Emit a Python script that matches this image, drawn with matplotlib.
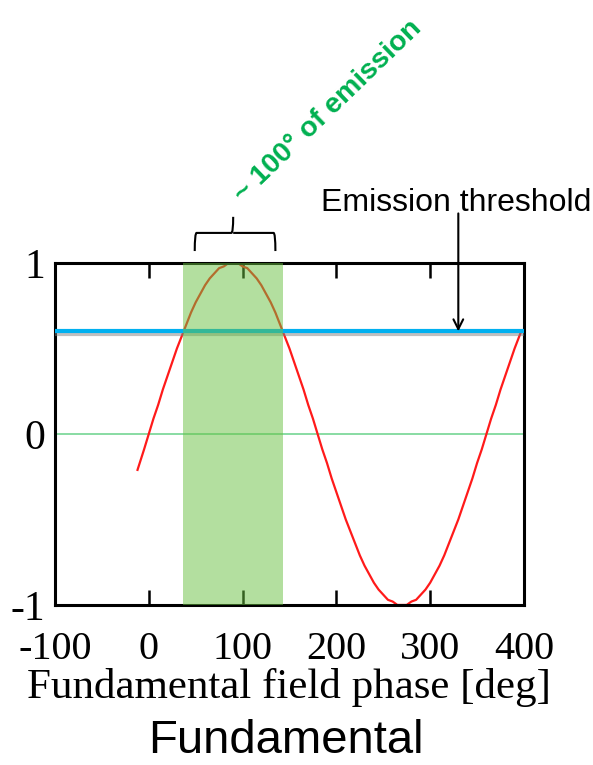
import matplotlib.pyplot as plt
import matplotlib.patheffects as pe
from matplotlib.path import Path
from matplotlib.patches import PathPatch

# field phase [deg] and normalised fundamental field
phase = [-12, -5, 0, 5, 10, 15, 20, 25, 30, 35, 40, 45, 50, 55, 60, 65, 70,
         75, 80, 85, 90, 95, 100, 105, 110, 115, 120, 125, 130, 135, 140, 145,
         150, 155, 160, 165, 170, 175, 180, 185, 190, 195, 200, 205, 210, 215,
         220, 225, 230, 235, 240, 245, 250, 255, 260, 265, 270, 275, 280, 285,
         290, 295, 300, 305, 310, 315, 320, 325, 330, 335, 340, 345, 350, 355,
         360, 365, 370, 375, 380, 385, 390, 397]
field = [-0.21, -0.09, 0.00, 0.09, 0.17, 0.26, 0.34, 0.42, 0.50, 0.57, 0.64,
         0.71, 0.77, 0.82, 0.87, 0.91, 0.94, 0.97, 0.98, 1.00, 1.00, 1.00,
         0.98, 0.97, 0.94, 0.91, 0.87, 0.82, 0.77, 0.71, 0.64, 0.57, 0.50,
         0.42, 0.34, 0.26, 0.17, 0.09, 0.00, -0.09, -0.17, -0.26, -0.34,
         -0.42, -0.50, -0.57, -0.64, -0.71, -0.77, -0.82, -0.87, -0.91, -0.94,
         -0.97, -0.98, -1.00, -1.00, -1.00, -0.98, -0.97, -0.94, -0.91, -0.87,
         -0.82, -0.77, -0.71, -0.64, -0.57, -0.50, -0.42, -0.34, -0.26, -0.17,
         -0.09, 0.00, 0.09, 0.17, 0.26, 0.34, 0.42, 0.50, 0.60]
threshold = 0.6
emission_window = [37, 143]
xticks = [-100, 0, 100, 200, 300, 400]
yticks = [-1, 0, 1]

fig = plt.figure(figsize=(5.93, 7.65), dpi=100)
ax = fig.add_axes([0.0927, 0.2092, 0.7909, 0.447])

serif = 'Liberation Serif'
sans = 'Liberation Sans'

#zero line and the field
ax.axhline(0, color='#7fd99c', lw=1.3, zorder=1)
ax.plot(phase, field, color='#ff1a1a', lw=1.6, zorder=2)

#threshold line with a soft shadow
ax.axhline(threshold, color='#00b0f0', lw=3, zorder=3,
           path_effects=[pe.SimpleLineShadow(offset=(0, -2), shadow_color='gray', alpha=0.5),
                         pe.Normal()])

#emission window drawn over everything
ax.axvspan(emission_window[0], emission_window[1], color='#69c141', alpha=0.5,
           lw=0, zorder=5)

ax.set_xlim(-100, 400)
ax.set_ylim(-1, 1)
ax.set_xticks(xticks)
ax.set_xticklabels([str(t) for t in xticks], fontfamily=serif, fontsize=29)
ax.set_yticks(yticks)
ax.set_yticklabels([str(t) for t in yticks], fontfamily=serif, fontsize=30)
ax.tick_params(axis='x', direction='in', top=True, bottom=True, length=11,
               width=1.8, pad=19)
ax.tick_params(axis='y', length=0, pad=7)
for s in ax.spines.values():
    s.set_linewidth(2.2)
ax.set_xlabel('Fundamental field phase [deg]', fontfamily=serif, fontsize=31,
              labelpad=0)

#brace over the emission window
mid = sum(emission_window) / 2
bl, br = 49, 135
trans = ax.get_xaxis_transform()
verts = [(bl, 1.035), (bl, 1.088), (bl + 2, 1.088),
         (mid - 2, 1.088), (mid, 1.088), (mid, 1.135),
         (mid, 1.088), (mid + 2, 1.088),
         (br - 2, 1.088), (br, 1.088), (br, 1.035)]
codes = [Path.MOVETO, Path.CURVE3, Path.CURVE3,
         Path.LINETO, Path.CURVE3, Path.CURVE3,
         Path.MOVETO, Path.LINETO,
         Path.LINETO, Path.CURVE3, Path.CURVE3]
ax.add_patch(PathPatch(Path(verts, codes), transform=trans, fill=False,
                       color='black', lw=1.5, clip_on=False))

ax.text(100, 1.175, '~ 100\u00b0 of emission', transform=trans, rotation=44,
        rotation_mode='anchor', ha='left', va='baseline', color='#00b050',
        fontfamily=sans, fontweight='bold', fontsize=20.5)

#threshold label with arrow
ax.annotate('', xy=(330, threshold), xycoords='data',
            xytext=(330, 1.145), textcoords=trans,
            arrowprops=dict(arrowstyle='->,head_length=0.7,head_width=0.35',
                            color='black', lw=1.5, shrinkA=0, shrinkB=0),
            zorder=6)
ax.text(0.855, 1.175, 'Emission threshold', transform=ax.transAxes,
        ha='center', va='center', fontfamily=sans, fontsize=23)

fig.text(286 / 593, 0.032, 'Fundamental', ha='center', va='center',
         fontfamily=sans, fontsize=34)

fig.savefig('out.png', dpi=100)
